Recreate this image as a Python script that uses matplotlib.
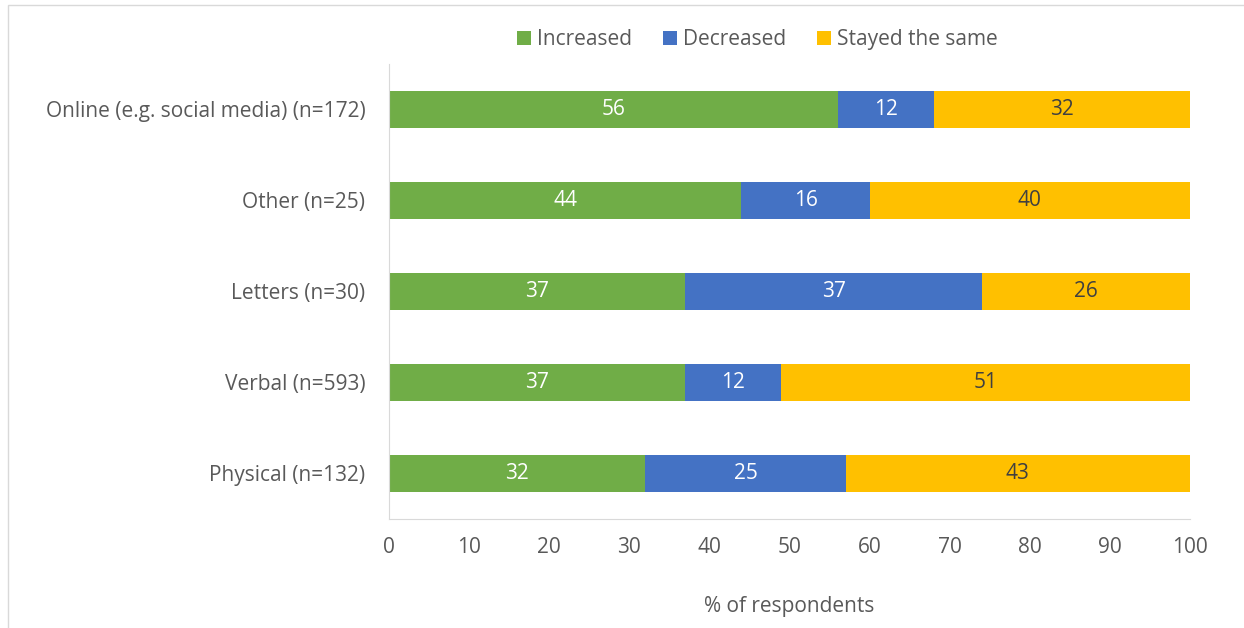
import matplotlib.pyplot as plt
from matplotlib.patches import Rectangle

# data (bottom to top)
categories = ["Physical (n=132)", "Verbal (n=593)", "Letters (n=30)",
              "Other (n=25)", "Online (e.g. social media) (n=172)"]
increased = [32, 37, 37, 44, 56]
decreased = [25, 12, 37, 16, 12]
same = [43, 51, 26, 40, 32]
xticks = list(range(0, 101, 10))

C_INC = "#70AD47"
C_DEC = "#4472C4"
C_SAME = "#FFC000"
TXT = "#595959"
FS = 15

plt.rcParams["font.family"] = ["Open Sans", "DejaVu Sans"]

fig = plt.figure(figsize=(12.44, 6.28), dpi=100)
ax = fig.add_axes([0.3127, 0.1736, 0.6439, 0.7245])

y = range(len(categories))
h = 0.4
ax.barh(y, increased, height=h, color=C_INC, label="Increased")
left2 = increased
ax.barh(y, decreased, height=h, left=left2, color=C_DEC, label="Decreased")
left3 = [a + b for a, b in zip(increased, decreased)]
ax.barh(y, same, height=h, left=left3, color=C_SAME, label="Stayed the same")

for i in y:
    ax.text(increased[i] / 2, i, str(increased[i]), ha="center", va="center",
            color="white", fontsize=FS)
    ax.text(left2[i] + decreased[i] / 2, i, str(decreased[i]), ha="center",
            va="center", color="white", fontsize=FS)
    ax.text(left3[i] + same[i] / 2, i, str(same[i]), ha="center", va="center",
            color="#404040", fontsize=FS)

ax.set_xlim(0, 100)
ax.set_ylim(-0.5, 4.5)
ax.set_xticks(xticks)
ax.set_yticks(list(y))
ax.set_yticklabels(categories)
ax.tick_params(length=0, labelsize=FS, colors=TXT)
ax.tick_params(axis="x", pad=13)
ax.tick_params(axis="y", pad=17)
for s in ["top", "right"]:
    ax.spines[s].set_visible(False)
for s in ["left", "bottom"]:
    ax.spines[s].set_color("#D9D9D9")
ax.set_xlabel("% of respondents", fontsize=FS, color=TXT, labelpad=27)

fig.legend(loc="center", bbox_to_anchor=(0.609, 0.937), ncol=3, frameon=False,
           fontsize=FS, handlelength=0.65, handleheight=0.65, handletextpad=0.3,
           columnspacing=1.5, labelcolor=TXT)

# outer chart frame
fig.add_artist(Rectangle((8 / 1244, -0.01), 1.2, 1 - 5 / 628 + 0.01,
                         transform=fig.transFigure, fill=False,
                         edgecolor="#D9D9D9", lw=1))

fig.savefig("out.png", dpi=100)
